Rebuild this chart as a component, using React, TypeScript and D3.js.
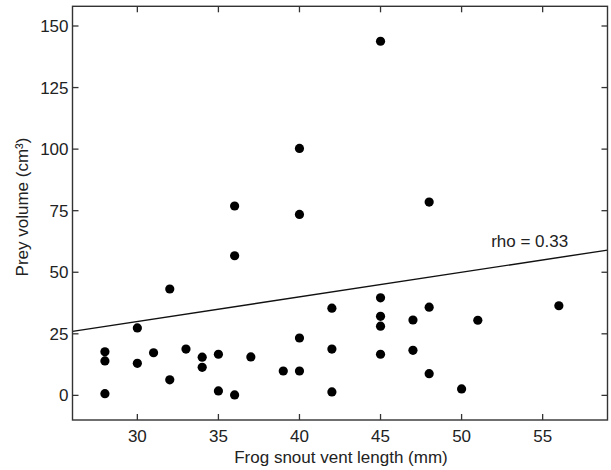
import React from "react";
import * as d3 from "d3";

const snoutLength = [28, 28, 28, 30, 30, 31, 32, 32, 33, 34, 34, 35, 35, 36, 36, 36, 37, 39, 40, 40, 40, 40, 42, 42, 42, 45, 45, 45, 45, 45, 47, 47, 48, 48, 48, 50, 51, 56];
const preyVolume = [17.7, 14.0, 0.7, 27.4, 13.0, 17.3, 43.2, 6.3, 18.8, 15.5, 11.4, 16.7, 1.8, 76.9, 56.7, 0.2, 15.6, 9.9, 100.3, 73.5, 23.3, 9.9, 35.4, 18.8, 1.4, 143.8, 39.6, 32.1, 28.1, 16.7, 30.6, 18.3, 78.5, 35.8, 8.8, 2.6, 30.5, 36.4];
const xTicks = [30, 35, 40, 45, 50, 55];
const yTicks = [0, 25, 50, 75, 100, 125, 150];
const xDomain = [26, 59];
const yDomain = [-10, 158];
const fitSlope = 1.0;
const fitIntercept = 0.0;
const rhoLabel = "rho = 0.33";
const rhoPos = [54.2, 60.4];
const xTitle = "Frog snout vent length (mm)";
const yTitle = "Prey volume (cm³)";

export default function App() {
  const W = 611, H = 470;
  const left = 72.5, right = 607.5, top = 6.3, bottom = 420;
  const x = d3.scaleLinear().domain(xDomain).range([left, right]);
  const y = d3.scaleLinear().domain(yDomain).range([bottom, top]);
  const axisColor = "#333";
  const textColor = "#222";
  const font = "'Liberation Sans', Arial, Helvetica, sans-serif";
  const tick = 6;
  const line = d3.line<number>().x((d) => x(d)).y((d) => y(fitSlope * d + fitIntercept));
  return (
    <svg width={W} height={H} style={{ position: "absolute", left: 0, top: 0, background: "#fff" }} fontFamily={font}>
      <rect x={0} y={0} width={W} height={H} fill="#fff" />
      <path d={line(xDomain) || ""} stroke="#111" strokeWidth={1.4} fill="none" />
      {snoutLength.map((sx, i) => (
        <circle key={i} cx={x(sx)} cy={y(preyVolume[i])} r={4.6} fill="#000" />
      ))}
      <rect x={left} y={top} width={right - left} height={bottom - top} fill="none" stroke={axisColor} strokeWidth={1.4} />
      {xTicks.map((t) => (
        <g key={"x" + t}>
          <line x1={x(t)} x2={x(t)} y1={bottom} y2={bottom - tick} stroke={axisColor} strokeWidth={1.3} />
          <line x1={x(t)} x2={x(t)} y1={top} y2={top + tick} stroke={axisColor} strokeWidth={1.3} />
          <text x={x(t)} y={442} textAnchor="middle" fontSize={17} fill={textColor}>{t}</text>
        </g>
      ))}
      {yTicks.map((t) => (
        <g key={"y" + t}>
          <line x1={left} x2={left + tick} y1={y(t)} y2={y(t)} stroke={axisColor} strokeWidth={1.3} />
          <line x1={right} x2={right - tick} y1={y(t)} y2={y(t)} stroke={axisColor} strokeWidth={1.3} />
          <text x={68.5} y={y(t)} dy="0.35em" textAnchor="end" fontSize={17} fill={textColor}>{t}</text>
        </g>
      ))}
      <text x={(left + right) / 2 + 1} y={463} textAnchor="middle" fontSize={17} fill={textColor}>{xTitle}</text>
      <text transform={`translate(27.5, 207) rotate(-90)`} textAnchor="middle" fontSize={17} fill={textColor}>{yTitle}</text>
      <text x={x(rhoPos[0])} y={y(rhoPos[1])} textAnchor="middle" fontSize={17} fill={textColor}>{rhoLabel}</text>
    </svg>
  );
}
